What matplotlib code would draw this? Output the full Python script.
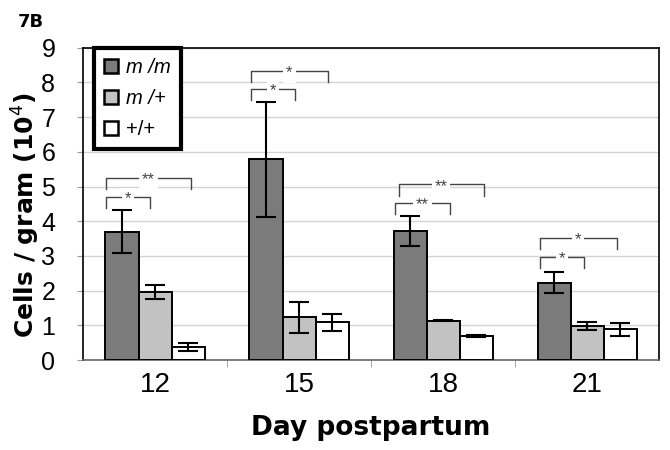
import numpy as np
import matplotlib as mpl
mpl.use("Agg")
import matplotlib.pyplot as plt
from matplotlib.patches import Patch

plt.rcParams["font.family"] = ["Liberation Sans", "DejaVu Sans"]

# data
days = ["12", "15", "18", "21"]
genotypes = ["m /m", "m /+", "+/+"]
mm_mean = [3.70, 5.78, 3.72, 2.23]
mm_err = [0.62, 1.66, 0.43, 0.30]
mp_mean = [1.95, 1.23, 1.13, 0.98]
mp_err = [0.20, 0.45, 0.02, 0.11]
pp_mean = [0.38, 1.09, 0.69, 0.88]
pp_err = [0.12, 0.24, 0.03, 0.20]

# significance brackets: (group, left, right, top y, label)
brackets = [
    (0, -0.34, -0.035, 4.71, "*"), (0, -0.34, 0.25, 5.24, "**"),
    (1, -0.335, -0.03, 7.80, "*"), (1, -0.335, 0.20, 8.34, "*"),
    (2, -0.335, 0.045, 4.53, "**"), (2, -0.31, 0.28, 5.06, "**"),
    (3, -0.33, -0.02, 2.96, "*"), (3, -0.33, 0.205, 3.51, "*"),
]

C_MM = "#7b7b7b"
C_MP = "#c2c2c2"
C_PP = "#ffffff"
C_GRID = "#d4d4d4"

fig = plt.figure(figsize=(6.7, 4.5), dpi=100)
ax = fig.add_axes([0.124, 0.2, 0.86, 0.694])

x = np.arange(len(days))
w = 0.23
err_kw = dict(ecolor="black", elinewidth=1.5, capsize=7, capthick=1.5)
series = [(mm_mean, mm_err, C_MM), (mp_mean, mp_err, C_MP), (pp_mean, pp_err, C_PP)]
for i, (m, e, c) in enumerate(series):
    ax.bar(x + (i - 1) * w, m, w, yerr=e, color=c, edgecolor="black",
           linewidth=1.4, error_kw=err_kw, zorder=3)

# brackets with stars
tick = 0.32
for g, x0, x1, y, lab in brackets:
    ax.plot([g + x0, g + x0, g + x1, g + x1], [y - tick, y, y, y - tick],
            color="#444444", lw=1.0, zorder=4)
    ax.text(g + (x0 + x1) / 2, y - 0.05, lab, ha="center", va="center", fontsize=12,
            color="#444444", zorder=5,
            bbox=dict(facecolor="white", edgecolor="none", pad=2))

ax.set_xlim(-0.5, 3.5)
ax.set_ylim(0, 9)
ax.set_yticks(range(10))
ax.yaxis.grid(True, color=C_GRID, lw=1.0, zorder=0)
ax.set_axisbelow(True)
ax.set_xticks(x)
ax.set_xticklabels(days, fontsize=20)
ax.set_xticks([0.5, 1.5, 2.5], minor=True)
ax.tick_params(axis="x", which="major", length=0, pad=9)
ax.tick_params(axis="x", which="minor", length=5, color="#999999")
ax.tick_params(axis="y", labelsize=18, length=4, pad=16, color="#999999")
for s in ax.spines.values():
    s.set_linewidth(1.2)
ax.spines["bottom"].set_color("#666666")

ax.set_xlabel("Day postpartum", fontsize=19, fontweight="bold",
              family="DejaVu Sans", labelpad=12)
ax.set_ylabel("Cells / gram (10$^4$)", fontsize=18, fontweight="bold",
              family="DejaVu Sans")
ax.yaxis.set_label_coords(-0.072, 0.464)

handles = [Patch(facecolor=c, edgecolor="black", lw=1.8) for _, _, c in series]
leg = ax.legend(handles, genotypes, loc="upper left", bbox_to_anchor=(0.019, 1.0),
                borderaxespad=0, fontsize=14.5, handlelength=0.7, handleheight=0.7,
                handletextpad=0.4, labelspacing=0.6, borderpad=0.5,
                fancybox=False, framealpha=1)
leg.get_frame().set_edgecolor("black")
leg.get_frame().set_linewidth(3)
for t in leg.get_texts()[:2]:
    t.set_fontstyle("italic")

fig.text(0.027, 0.94, "7B", fontsize=13, fontweight="bold", family="DejaVu Sans")

fig.savefig("out.png", dpi=100)
